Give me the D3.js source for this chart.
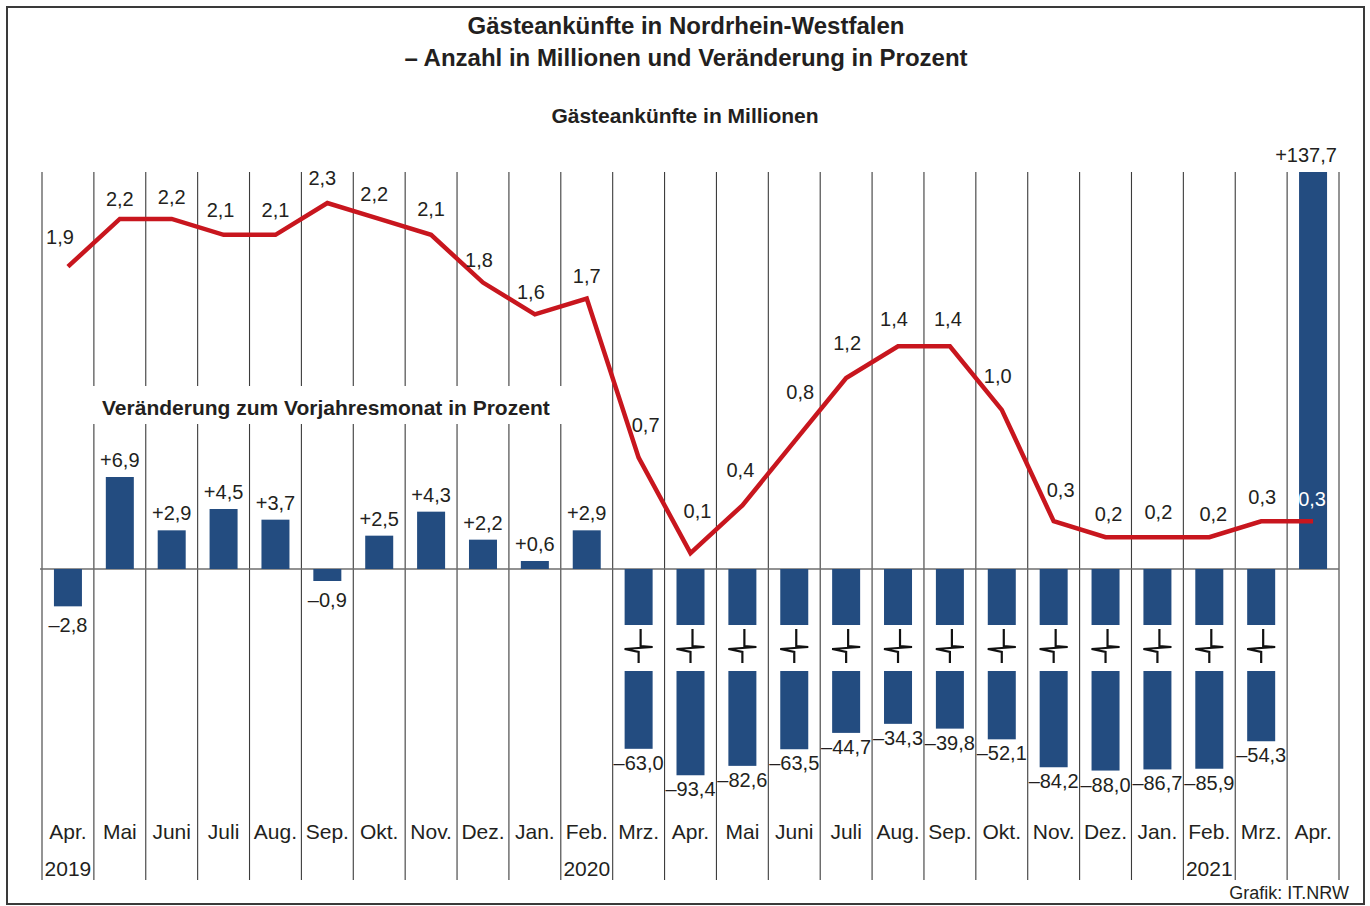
<!DOCTYPE html>
<html>
<head>
<meta charset="utf-8">
<script src="https://cdn.jsdelivr.net/npm/d3@7"></script>
<style>
  body { margin: 0; background: #fff; }
  svg { display: block; font-family: 'Liberation Sans', Arial, sans-serif; }
</style>
</head>
<body>
<svg width="1370" height="906"></svg>
<script>
// months Apr 2019 .. Apr 2021
const months = ['Apr.', 'Mai', 'Juni', 'Juli', 'Aug.', 'Sep.', 'Okt.', 'Nov.', 'Dez.', 'Jan.', 'Feb.', 'Mrz.',
  'Apr.', 'Mai', 'Juni', 'Juli', 'Aug.', 'Sep.', 'Okt.', 'Nov.', 'Dez.', 'Jan.', 'Feb.', 'Mrz.', 'Apr.'];
const yearLabels = ['2019', '2020', '2021'];
const yearIndex = [0, 10, 22];

// Gästeankünfte in Millionen
const arrivals = [1.9, 2.2, 2.2, 2.1, 2.1, 2.3, 2.2, 2.1, 1.8, 1.6, 1.7, 0.7,
  0.1, 0.4, 0.8, 1.2, 1.4, 1.4, 1.0, 0.3, 0.2, 0.2, 0.2, 0.3, 0.3];

// Veränderung zum Vorjahresmonat in Prozent
const change = [-2.8, 6.9, 2.9, 4.5, 3.7, -0.9, 2.5, 4.3, 2.2, 0.6, 2.9, -63.0,
  -93.4, -82.6, -63.5, -44.7, -34.3, -39.8, -52.1, -84.2, -88.0, -86.7, -85.9, -54.3, 137.7];

// label placement above the line points (layout only)
const labelLift = [30, 20, 22, 25, 25, 25, 25, 26, 23, 22, 22, 33, 42, 35, 50, 35, 27, 27, 34, 31, 23, 25, 23, 24, 22];
const labelDx = [-8, 0, 0, -3, 0, -5, -5, 0, -4, -4, 0, 7, 7, -2, 6, 1, -4, -2, -4, 7, 3, 1, 4, 1, -1];

const svg = d3.select('svg');
const ink = '#231f20';
const blue = '#234c80';
const red = '#c8161e';

const de = d3.formatLocale({ decimal: ',', thousands: '.', grouping: [3], currency: ['', ' €'], minus: '\u2013' });
const fmtMio = de.format('.1f');
const fmtPct = de.format('+.1f');

const plotTop = 172;
const plotBottom = 880;
const zero = 569;

const x = d3.scaleBand()
  .domain(months.map((m, i) => i))
  .range([42, 1339])
  .padding(0);
const cx = (i) => x(i) + x.bandwidth() / 2;
const barW = 28;

const yLine = d3.scaleLinear().domain([0, 2.3]).range([zero, 203]);
const yBar = d3.scaleLinear().domain([0, 6.9]).range([zero, 477]);
// lower part of the broken bars
const yLow = d3.scaleLinear().domain([0, -100]).range([694, 781]);
const breakAt = -4.2;
const lowStart = 671;

// frame
svg.append('rect')
  .attr('x', 7).attr('y', 7)
  .attr('width', 1357).attr('height', 897)
  .attr('fill', 'none')
  .attr('stroke', '#3a3a3a')
  .attr('stroke-width', 2);

// titles
svg.append('text')
  .attr('x', 686).attr('y', 34)
  .attr('text-anchor', 'middle')
  .attr('font-size', 24).attr('font-weight', 'bold').attr('fill', ink)
  .text('Gästeankünfte in Nordrhein-Westfalen');
svg.append('text')
  .attr('x', 686).attr('y', 66)
  .attr('text-anchor', 'middle')
  .attr('font-size', 24).attr('font-weight', 'bold').attr('fill', ink)
  .text('\u2013 Anzahl in Millionen und Veränderung in Prozent');
svg.append('text')
  .attr('x', 685).attr('y', 123)
  .attr('text-anchor', 'middle')
  .attr('font-size', 21).attr('font-weight', 'bold').attr('fill', ink)
  .text('Gästeankünfte in Millionen');

// column separators
const edges = months.map((m, i) => x(i)).concat([x.range()[1]]);
svg.append('g')
  .selectAll('line')
  .data(edges)
  .enter()
  .append('line')
  .attr('x1', (d) => d).attr('x2', (d) => d)
  .attr('y1', plotTop).attr('y2', plotBottom)
  .attr('stroke', '#3c3c3c')
  .attr('stroke-width', 1.1);

// label for the bars, on white
svg.append('rect')
  .attr('x', 88).attr('y', 386)
  .attr('width', 477).attr('height', 38)
  .attr('fill', '#fff');
svg.append('text')
  .attr('x', 102).attr('y', 415)
  .attr('font-size', 21).attr('font-weight', 'bold').attr('fill', ink)
  .text('Veränderung zum Vorjahresmonat in Prozent');

// baseline
svg.append('line')
  .attr('x1', 40).attr('x2', 1339)
  .attr('y1', zero).attr('y2', zero)
  .attr('stroke', '#6e6e6e')
  .attr('stroke-width', 1.6);

const isBroken = (d) => d < -10;
const isClipped = (d) => yBar(d) < plotTop;

// bars (upper part / normal bars)
svg.append('g')
  .selectAll('rect')
  .data(change)
  .enter()
  .append('rect')
  .attr('x', (d, i) => cx(i) - barW / 2)
  .attr('width', barW)
  .attr('y', (d) => (d > 0 ? Math.max(plotTop, yBar(d)) : zero))
  .attr('height', (d) => {
    if (d > 0) return zero - Math.max(plotTop, yBar(d));
    if (isBroken(d)) return yBar(breakAt) - zero;
    return yBar(d) - zero;
  })
  .attr('fill', blue);

// lower part of the broken bars
const broken = change.map((d, i) => ({ d, i })).filter((o) => isBroken(o.d));
svg.append('g')
  .selectAll('rect')
  .data(broken)
  .enter()
  .append('rect')
  .attr('x', (o) => cx(o.i) - barW / 2)
  .attr('width', barW)
  .attr('y', lowStart)
  .attr('height', (o) => yLow(o.d) - lowStart)
  .attr('fill', blue);

// break symbols
const mid = (yBar(breakAt) + lowStart) / 2;
svg.append('g')
  .selectAll('path')
  .data(broken)
  .enter()
  .append('path')
  .attr('d', (o) => {
    const c = cx(o.i);
    return `M${c + 2},${mid - 19} V${mid - 2} L${c + 14},${mid - 1} L${c - 14},${mid + 1} L${c},${mid + 4} V${mid + 15}`;
  })
  .attr('fill', 'none')
  .attr('stroke', '#111')
  .attr('stroke-width', 2.2);

// bar labels
svg.append('g')
  .selectAll('text')
  .data(change)
  .enter()
  .append('text')
  .attr('x', (d, i) => cx(i) - (isClipped(d) ? 7 : 0))
  .attr('y', (d) => {
    if (d > 0) return Math.max(plotTop, yBar(d)) - 10;
    if (isBroken(d)) return yLow(d) + 21;
    return yBar(d) + 26;
  })
  .attr('text-anchor', 'middle')
  .attr('font-size', 20)
  .attr('fill', ink)
  .text((d) => fmtPct(d));

// arrivals line
const line = d3.line()
  .x((d, i) => cx(i))
  .y((d) => yLine(d));

svg.append('path')
  .datum(arrivals)
  .attr('d', line)
  .attr('fill', 'none')
  .attr('stroke', red)
  .attr('stroke-width', 4.5)
  .attr('stroke-linejoin', 'miter');

svg.append('g')
  .selectAll('text')
  .data(arrivals)
  .enter()
  .append('text')
  .attr('x', (d, i) => cx(i) + labelDx[i])
  .attr('y', (d, i) => yLine(d) - labelLift[i] + 7)
  .attr('text-anchor', 'middle')
  .attr('font-size', 20)
  .attr('fill', (d, i) => (change[i] > 100 ? '#fff' : ink))
  .text((d) => fmtMio(d));

// x axis: months and years
svg.append('g')
  .selectAll('text')
  .data(months)
  .enter()
  .append('text')
  .attr('x', (d, i) => cx(i))
  .attr('y', 839)
  .attr('text-anchor', 'middle')
  .attr('font-size', 21)
  .attr('fill', ink)
  .text((d) => d);

svg.append('g')
  .selectAll('text')
  .data(yearLabels)
  .enter()
  .append('text')
  .attr('x', (d, i) => cx(yearIndex[i]))
  .attr('y', 876)
  .attr('text-anchor', 'middle')
  .attr('font-size', 21)
  .attr('fill', ink)
  .text((d) => d);

svg.append('text')
  .attr('x', 1349).attr('y', 899)
  .attr('text-anchor', 'end')
  .attr('font-size', 18)
  .attr('fill', ink)
  .text('Grafik: IT.NRW');
</script>
</body>
</html>
